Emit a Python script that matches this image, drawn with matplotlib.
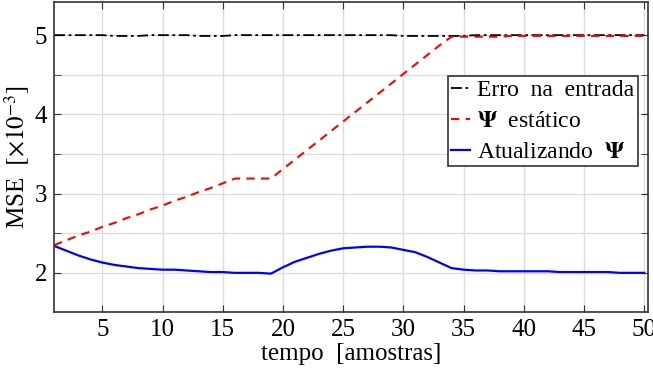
import matplotlib
matplotlib.use("Agg")
import matplotlib.pyplot as plt
import numpy as np

# data (MSE x 1e-3 vs. sample index)
t = np.arange(1, 51)

erro_entrada = [5.00, 5.00, 5.00, 5.00, 5.00, 4.99, 4.99, 4.99, 5.00, 5.00,
                5.00, 5.00, 4.99, 4.99, 4.99, 5.00, 5.00, 5.00, 5.00, 5.00,
                5.00, 5.00, 5.00, 5.00, 5.00, 5.00, 5.00, 5.00, 5.00, 4.99,
                4.99, 4.99, 4.99, 4.99, 4.99, 5.00, 5.00, 5.00, 5.00, 5.00,
                5.00, 5.00, 5.00, 5.00, 5.00, 5.00, 5.00, 5.00, 5.00, 5.00]

psi_estatico = [2.35, 2.41, 2.47, 2.52, 2.58, 2.63, 2.69, 2.74, 2.80, 2.85,
                2.91, 2.96, 3.02, 3.07, 3.13, 3.19, 3.19, 3.19, 3.19, 3.31,
                3.43, 3.55, 3.67, 3.79, 3.91, 4.03, 4.15, 4.27, 4.39, 4.51,
                4.63, 4.75, 4.87, 4.98, 4.98, 4.98, 4.98, 4.98, 4.99, 4.99,
                4.99, 4.99, 4.99, 4.99, 4.99, 4.99, 4.99, 4.99, 4.99, 4.99]

psi_atualizando = [2.34, 2.28, 2.22, 2.17, 2.13, 2.10, 2.08, 2.06, 2.05, 2.04,
                   2.04, 2.03, 2.02, 2.01, 2.01, 2.00, 2.00, 2.00, 1.99, 2.07,
                   2.14, 2.19, 2.24, 2.28, 2.31, 2.32, 2.33, 2.33, 2.32, 2.29,
                   2.26, 2.20, 2.13, 2.06, 2.04, 2.03, 2.03, 2.02, 2.02, 2.02,
                   2.02, 2.02, 2.01, 2.01, 2.01, 2.01, 2.01, 2.00, 2.00, 2.00]

plt.rcParams["font.family"] = ["Liberation Serif", "DejaVu Serif"]
plt.rcParams["mathtext.fontset"] = "stix"

fig = plt.figure(figsize=(6.53, 3.72), dpi=100)
ax = fig.add_axes([0.083, 0.16, 0.909, 0.835])

ax.plot(t, erro_entrada, color="black", ls=(0, (6, 2, 1.5, 2)), lw=1.3, label="Erro  na  entrada")
ax.plot(t, psi_estatico, color="red", ls=(0, (4, 3)), lw=1.5, label=r"$\mathbf{\Psi}$  estático")
ax.plot(t, psi_atualizando, color="blue", ls="-", lw=1.6, label=r"Atualizando  $\mathbf{\Psi}$")

ax.set_xlim(1, 50.3)
ax.set_ylim(1.5, 5.42)
ax.set_xticks(np.arange(5, 51, 5))
ax.set_yticks([2, 3, 4, 5])
ax.set_yticks([2.5, 3.5, 4.5], minor=True)
ax.grid(True, which="both", color="#dcdcdc", lw=1.0)
ax.set_axisbelow(True)
ax.tick_params(which="both", direction="in", top=True, right=True,
               labelsize=18, length=5, color="#333333", pad=5)
for s in ax.spines.values():
    s.set_color("#333333")
    s.set_linewidth(1.2)

ax.set_xlabel("tempo  [amostras]", fontsize=18, labelpad=1)
ax.set_ylabel(r"MSE  $[\times 10^{-3}]$", fontsize=18, labelpad=2)

leg = ax.legend(loc="upper right", bbox_to_anchor=(0.983, 0.762), fontsize=17,
                handlelength=0.8, handletextpad=0.3, borderpad=0.15,
                labelspacing=0.4, fancybox=False, framealpha=1.0, borderaxespad=0)
leg.get_frame().set_edgecolor("#333333")
leg.get_frame().set_linewidth(1.2)

fig.savefig("out.png", dpi=100)
plt.close(fig)
